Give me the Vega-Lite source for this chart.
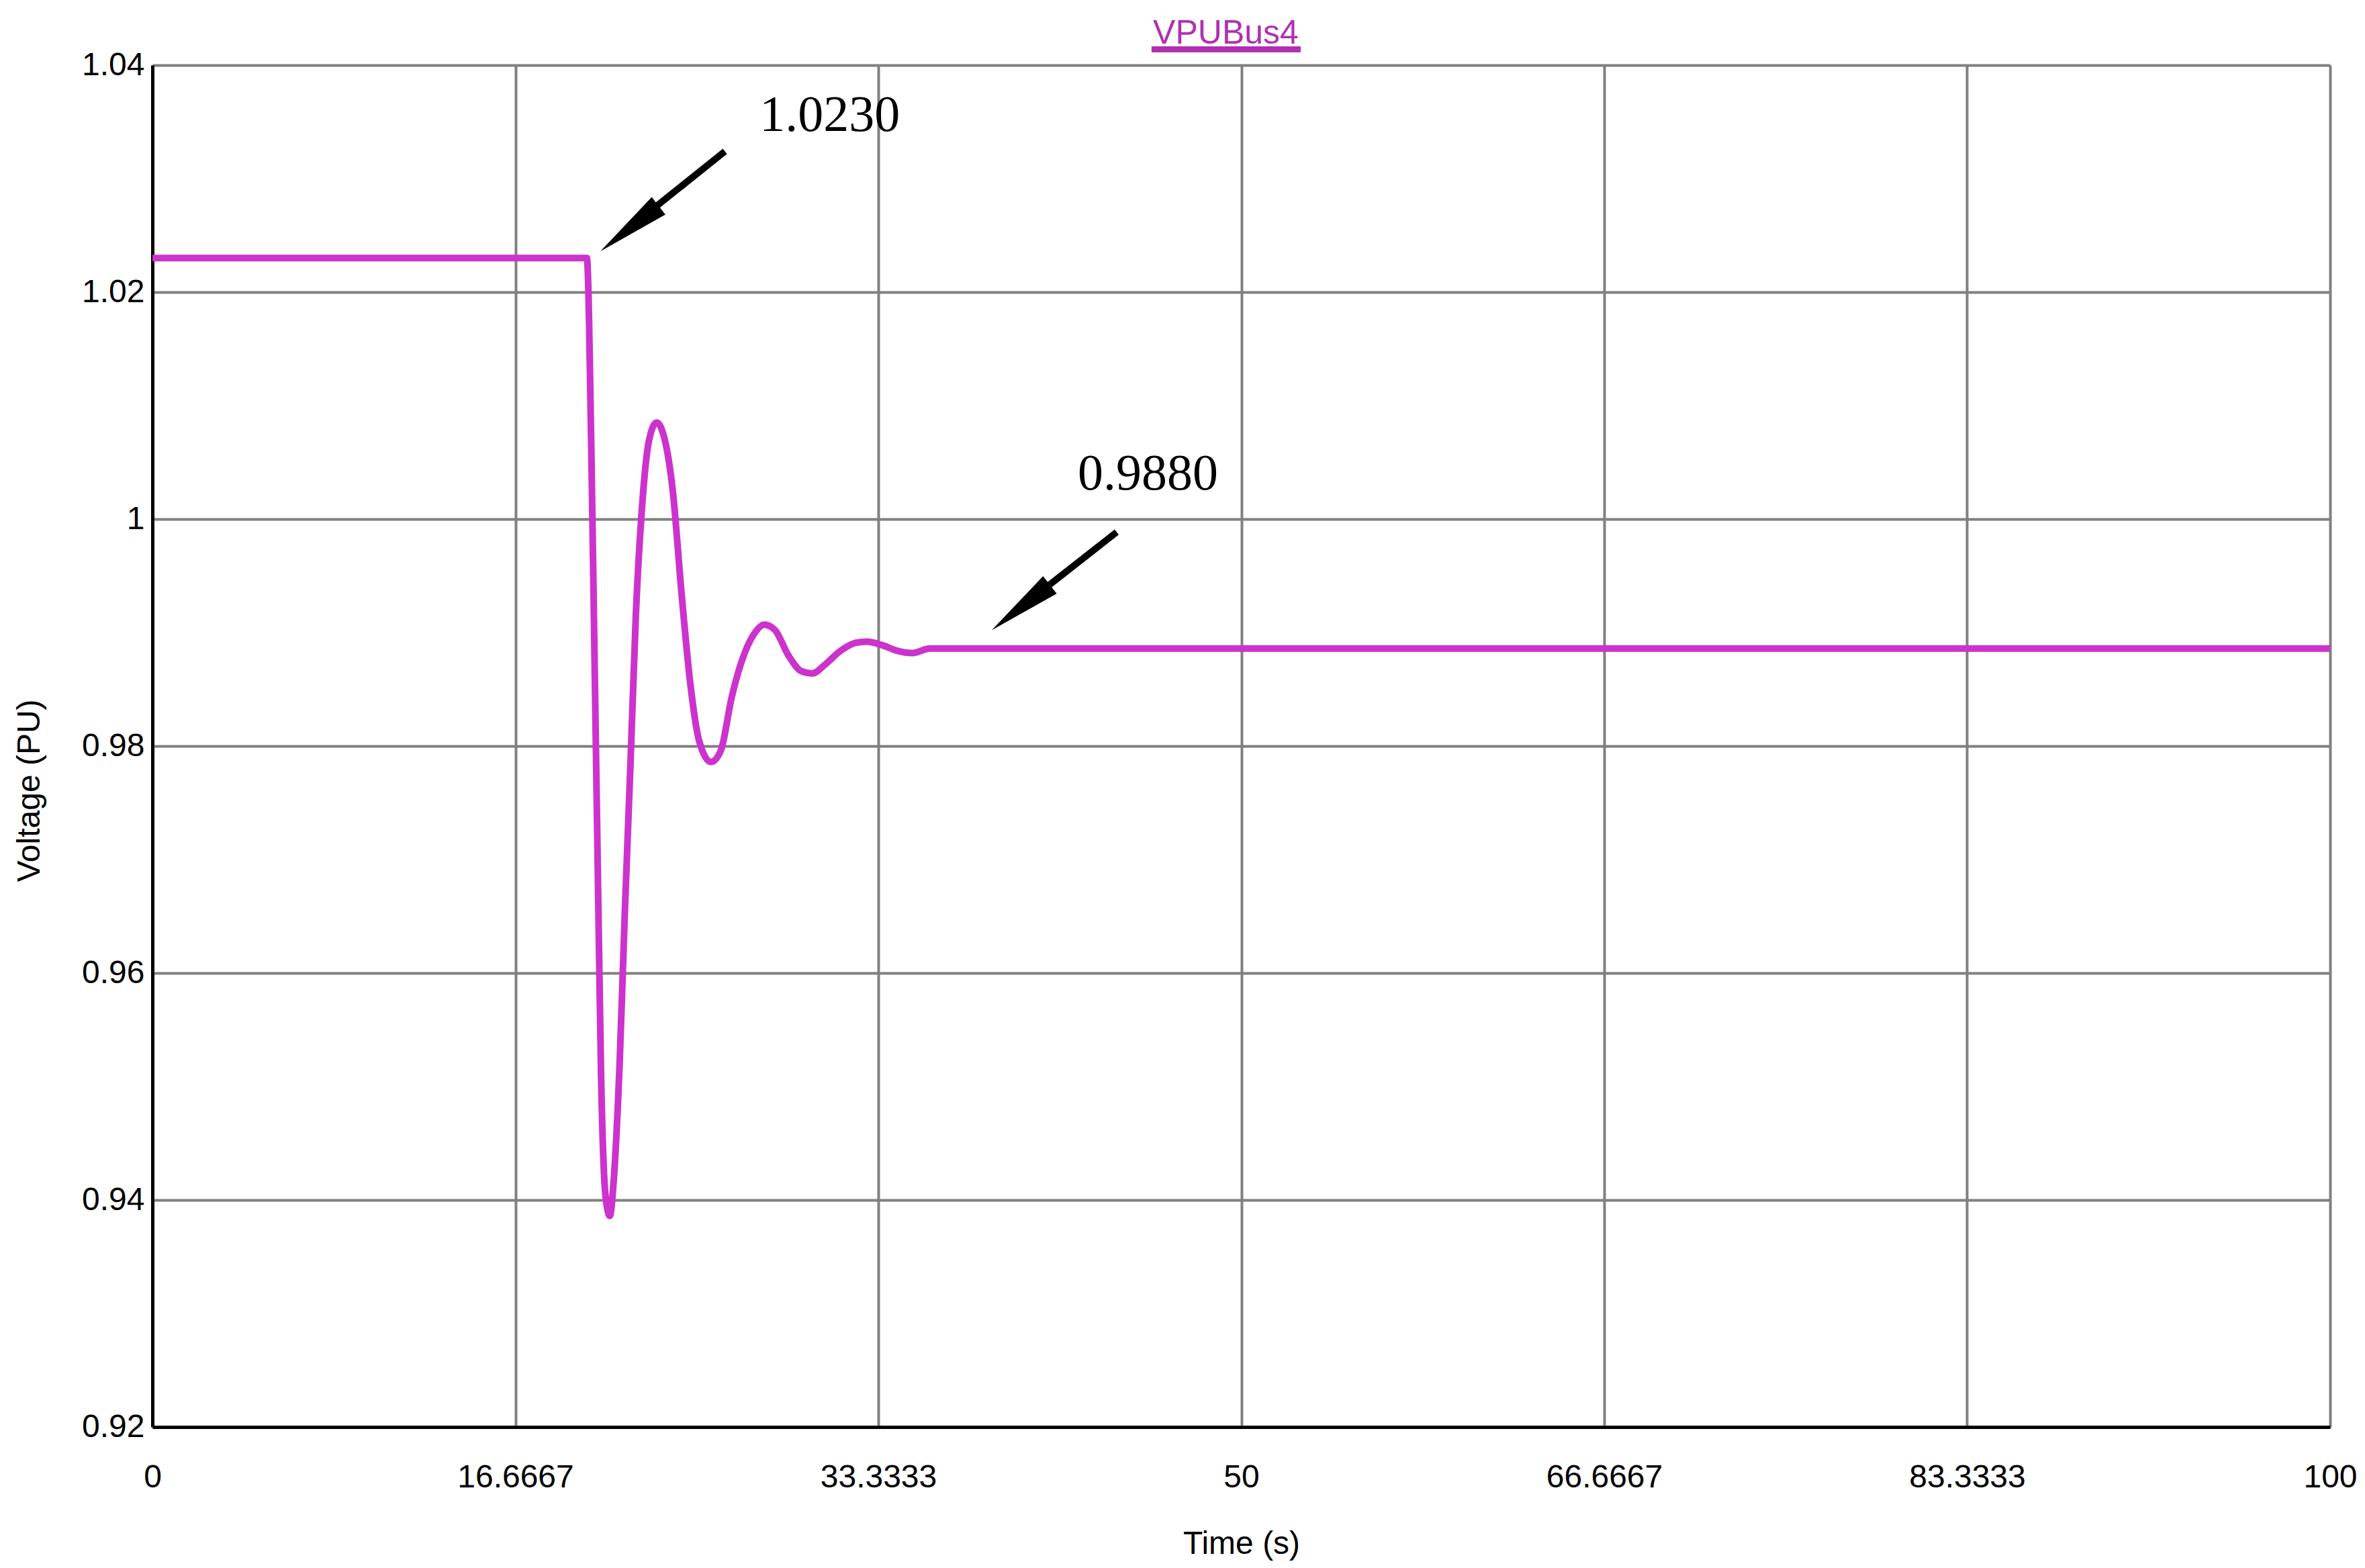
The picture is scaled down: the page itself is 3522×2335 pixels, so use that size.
{
  "$schema": "https://vega.github.io/schema/vega-lite/v6.json",
  "width": 3243,
  "height": 2028,
  "autosize": {"type": "none"},
  "padding": {"left": 227, "top": 97, "right": 52, "bottom": 210},
  "background": "white",
  "title": {
    "text": "VPUBus4",
    "font": "Liberation Sans",
    "fontSize": 50,
    "fontWeight": "normal",
    "color": "#b030b0",
    "anchor": "middle",
    "dx": -23,
    "dy": 56,
    "offset": 10,
    "baseline": "alphabetic"
  },
  "config": {
    "view": {"stroke": null},
    "axis": {
      "grid": true,
      "gridColor": "#808080",
      "gridWidth": 4,
      "gridOpacity": 1,
      "domainColor": "#000000",
      "domainWidth": 5,
      "ticks": false,
      "tickSize": 0,
      "labelFont": "Liberation Sans",
      "labelFontSize": 48,
      "labelColor": "#000000",
      "labelOverlap": false,
      "labelFlush": false,
      "titleFont": "Liberation Sans",
      "titleFontSize": 48,
      "titleFontWeight": "normal",
      "titleColor": "#000000"
    }
  },
  "datasets": {
    "series": [
      {"t": 0, "v": 1.023},
      {"t": 19.95, "v": 1.023},
      {"t": 20.15, "v": 1.0066},
      {"t": 20.3, "v": 0.988},
      {"t": 20.45, "v": 0.9693},
      {"t": 20.6, "v": 0.9512},
      {"t": 20.8, "v": 0.9405},
      {"t": 21.0, "v": 0.9386},
      {"t": 21.2, "v": 0.9422},
      {"t": 21.45, "v": 0.9518},
      {"t": 21.7, "v": 0.9657},
      {"t": 21.95, "v": 0.9783},
      {"t": 22.2, "v": 0.9916},
      {"t": 22.5, "v": 1.0015},
      {"t": 22.8, "v": 1.0069},
      {"t": 23.15, "v": 1.0085},
      {"t": 23.5, "v": 1.0072},
      {"t": 23.9, "v": 1.0024},
      {"t": 24.3, "v": 0.9934},
      {"t": 24.7, "v": 0.9855},
      {"t": 25.1, "v": 0.9805},
      {"t": 25.65, "v": 0.9786},
      {"t": 26.1, "v": 0.9796},
      {"t": 26.6, "v": 0.9843},
      {"t": 27.1, "v": 0.9877},
      {"t": 27.6, "v": 0.9898},
      {"t": 28.1, "v": 0.9907},
      {"t": 28.6, "v": 0.9902},
      {"t": 29.2, "v": 0.988},
      {"t": 29.8, "v": 0.9866},
      {"t": 30.3, "v": 0.9864},
      {"t": 30.9, "v": 0.9872},
      {"t": 31.6, "v": 0.9884},
      {"t": 32.3, "v": 0.9891},
      {"t": 32.8, "v": 0.9892},
      {"t": 33.5, "v": 0.9889},
      {"t": 34.2, "v": 0.9884},
      {"t": 34.9, "v": 0.9882},
      {"t": 35.7, "v": 0.9886},
      {"t": 100, "v": 0.9886}
    ],
    "arrows": [
      {"t1": 26.29, "v1": 1.0324, "t2": 21.77, "v2": 1.02547},
      {"t1": 44.28, "v1": 0.99885, "t2": 39.75, "v2": 0.99204}
    ],
    "heads": [
      {"t": 20.57, "v": 1.0236},
      {"t": 38.54, "v": 0.9902}
    ],
    "labels": [
      {"t": 27.88, "v": 1.0342, "label": "1.0230"},
      {"t": 42.49, "v": 1.00263, "label": "0.9880"}
    ],
    "underline": [
      {"t1": 45.88, "t2": 52.73, "v": 1.04139}
    ]
  },
  "layer": [
    {
      "data": {"name": "series"},
      "mark": {"type": "line", "color": "#cc33cc", "strokeWidth": 10, "interpolate": "monotone"},
      "encoding": {
        "x": {
          "field": "t",
          "type": "quantitative",
          "scale": {"domain": [0, 100], "nice": false, "zero": false},
          "axis": {
            "values": [0, 16.6667, 33.3333, 50, 66.6667, 83.3333, 100],
            "format": ".6~g",
            "labelPadding": 51,
            "title": "Time (s)",
            "titleY": 188,
            "titleBaseline": "alphabetic"
          }
        },
        "y": {
          "field": "v",
          "type": "quantitative",
          "scale": {"domain": [0.92, 1.04], "nice": false, "zero": false},
          "axis": {
            "values": [0.92, 0.94, 0.96, 0.98, 1, 1.02, 1.04],
            "format": ".6~g",
            "labelPadding": 12,
            "title": "Voltage (PU)",
            "titleAngle": 270,
            "titleX": -169,
            "titleY": 1080,
            "titleAlign": "center",
            "titleBaseline": "alphabetic"
          }
        }
      }
    },
    {
      "data": {"name": "arrows"},
      "mark": {"type": "rule", "color": "#000000", "strokeWidth": 10, "strokeCap": "butt"},
      "encoding": {
        "x": {"field": "t1", "type": "quantitative"},
        "y": {"field": "v1", "type": "quantitative"},
        "x2": {"field": "t2"},
        "y2": {"field": "v2"}
      }
    },
    {
      "data": {"name": "heads"},
      "mark": {"type": "point", "shape": "M0,0L0.15,1L-0.15,1Z", "size": 48400, "angle": 232, "filled": true, "color": "#000000", "opacity": 1},
      "encoding": {
        "x": {"field": "t", "type": "quantitative"},
        "y": {"field": "v", "type": "quantitative"}
      }
    },
    {
      "data": {"name": "labels"},
      "mark": {"type": "text", "font": "Liberation Serif", "fontSize": 76, "align": "left", "baseline": "alphabetic", "color": "#000000"},
      "encoding": {
        "x": {"field": "t", "type": "quantitative"},
        "y": {"field": "v", "type": "quantitative"},
        "text": {"field": "label"}
      }
    },
    {
      "data": {"name": "underline"},
      "mark": {"type": "rule", "color": "#b030b0", "strokeWidth": 9},
      "encoding": {
        "x": {"field": "t1", "type": "quantitative"},
        "x2": {"field": "t2"},
        "y": {"field": "v", "type": "quantitative"}
      }
    }
  ]
}
